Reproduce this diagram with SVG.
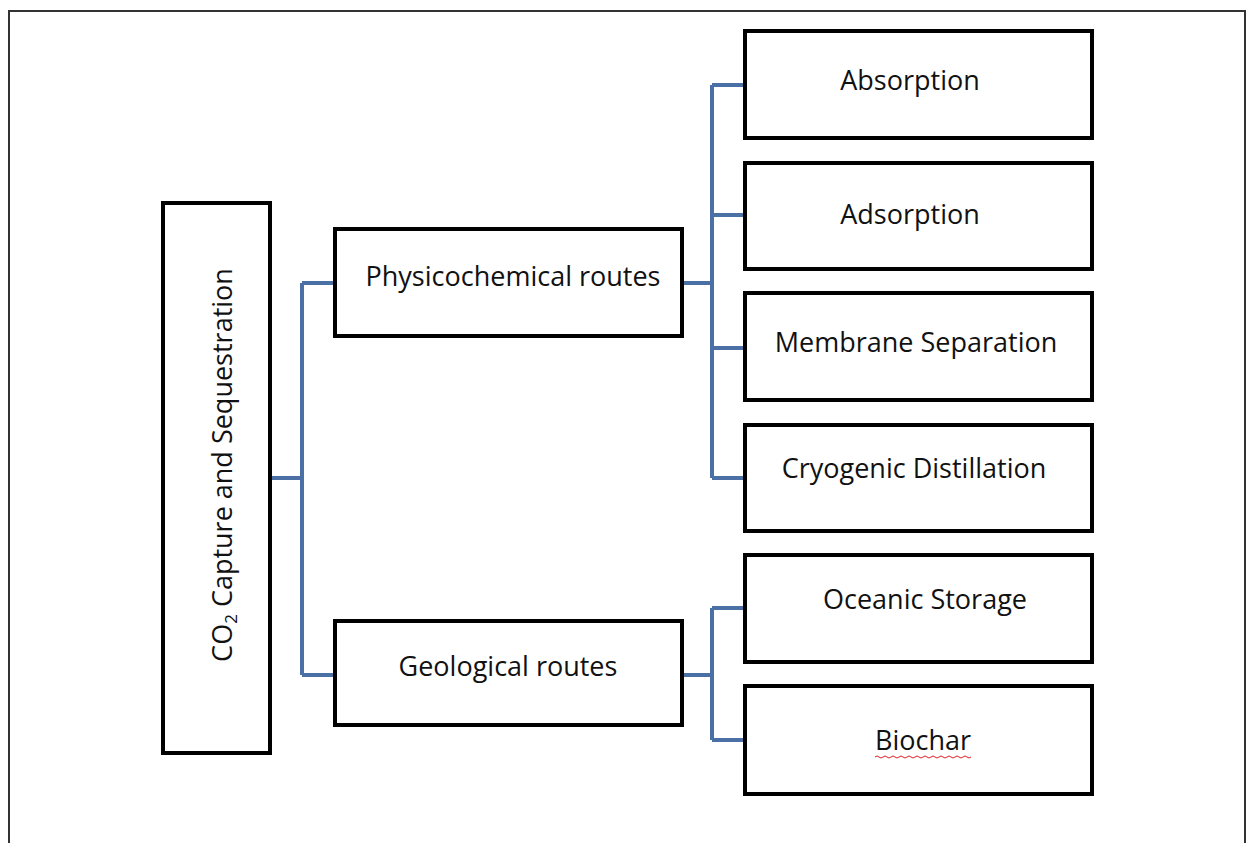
<svg xmlns="http://www.w3.org/2000/svg" width="1254" height="843" viewBox="0 0 1254 843">
<style>
.box{fill:#fff;stroke:#000;stroke-width:4}
.lbl{font-family:"Open Sans","Liberation Sans",sans-serif;font-size:27px;fill:#111;text-anchor:middle}
.con{fill:none;stroke:#4a70a6;stroke-width:4;stroke-linejoin:round}
</style>
<rect x="0" y="0" width="1254" height="843" fill="#fff"/>
<path d="M9 845 V11 H1245 V845" fill="none" stroke="#333" stroke-width="2"/>
<g id="connectors">
<path class="con" d="M270 478 H302 M302 283 V675 M302 283 H335 M302 675 H335"/>
<path class="con" d="M682 283 H712 M712 85 V478 M712 85 H745 M712 215 H745 M712 348 H745 M712 478 H745"/>
<path class="con" d="M682 675 H712 M712 608 V740 M712 608 H745 M712 740 H745"/>
</g>
<g id="root"><rect class="box" x="163" y="203" width="107" height="550"/>
<text class="lbl" transform="translate(232 465) rotate(-90)">CO<tspan font-size="17" dy="5">2</tspan><tspan dy="-5"> Capture and Sequestration</tspan></text></g>
<g id="physico"><rect class="box" x="335" y="229" width="347" height="107"/><text class="lbl" x="513" y="286">Physicochemical routes</text></g>
<g id="geo"><rect class="box" x="335" y="621" width="347" height="104"/><text class="lbl" x="508" y="676">Geological routes</text></g>
<g id="absorption"><rect class="box" x="745" y="31" width="347" height="107"/><text class="lbl" x="910" y="90">Absorption</text></g>
<g id="adsorption"><rect class="box" x="745" y="163" width="347" height="106"/><text class="lbl" x="910" y="224">Adsorption</text></g>
<g id="membrane"><rect class="box" x="745" y="293" width="347" height="107"/><text class="lbl" x="916" y="352">Membrane Separation</text></g>
<g id="cryogenic"><rect class="box" x="745" y="425" width="347" height="106"/><text class="lbl" x="914" y="478">Cryogenic Distillation</text></g>
<g id="oceanic"><rect class="box" x="745" y="555" width="347" height="107"/><text class="lbl" x="925" y="609">Oceanic Storage</text></g>
<g id="biochar"><rect class="box" x="745" y="686" width="347" height="108"/><text class="lbl" x="923" y="750">Biochar</text>
<path d="M875 757 q2 -2 4 0 t4 0 t4 0 t4 0 t4 0 t4 0 t4 0 t4 0 t4 0 t4 0 t4 0 t4 0 t4 0 t4 0 t4 0 t4 0 t4 0 t4 0 t4 0 t4 0 t4 0 t4 0 t4 0 t4 0" fill="none" stroke="#e02020" stroke-width="1"/></g>
</svg>
